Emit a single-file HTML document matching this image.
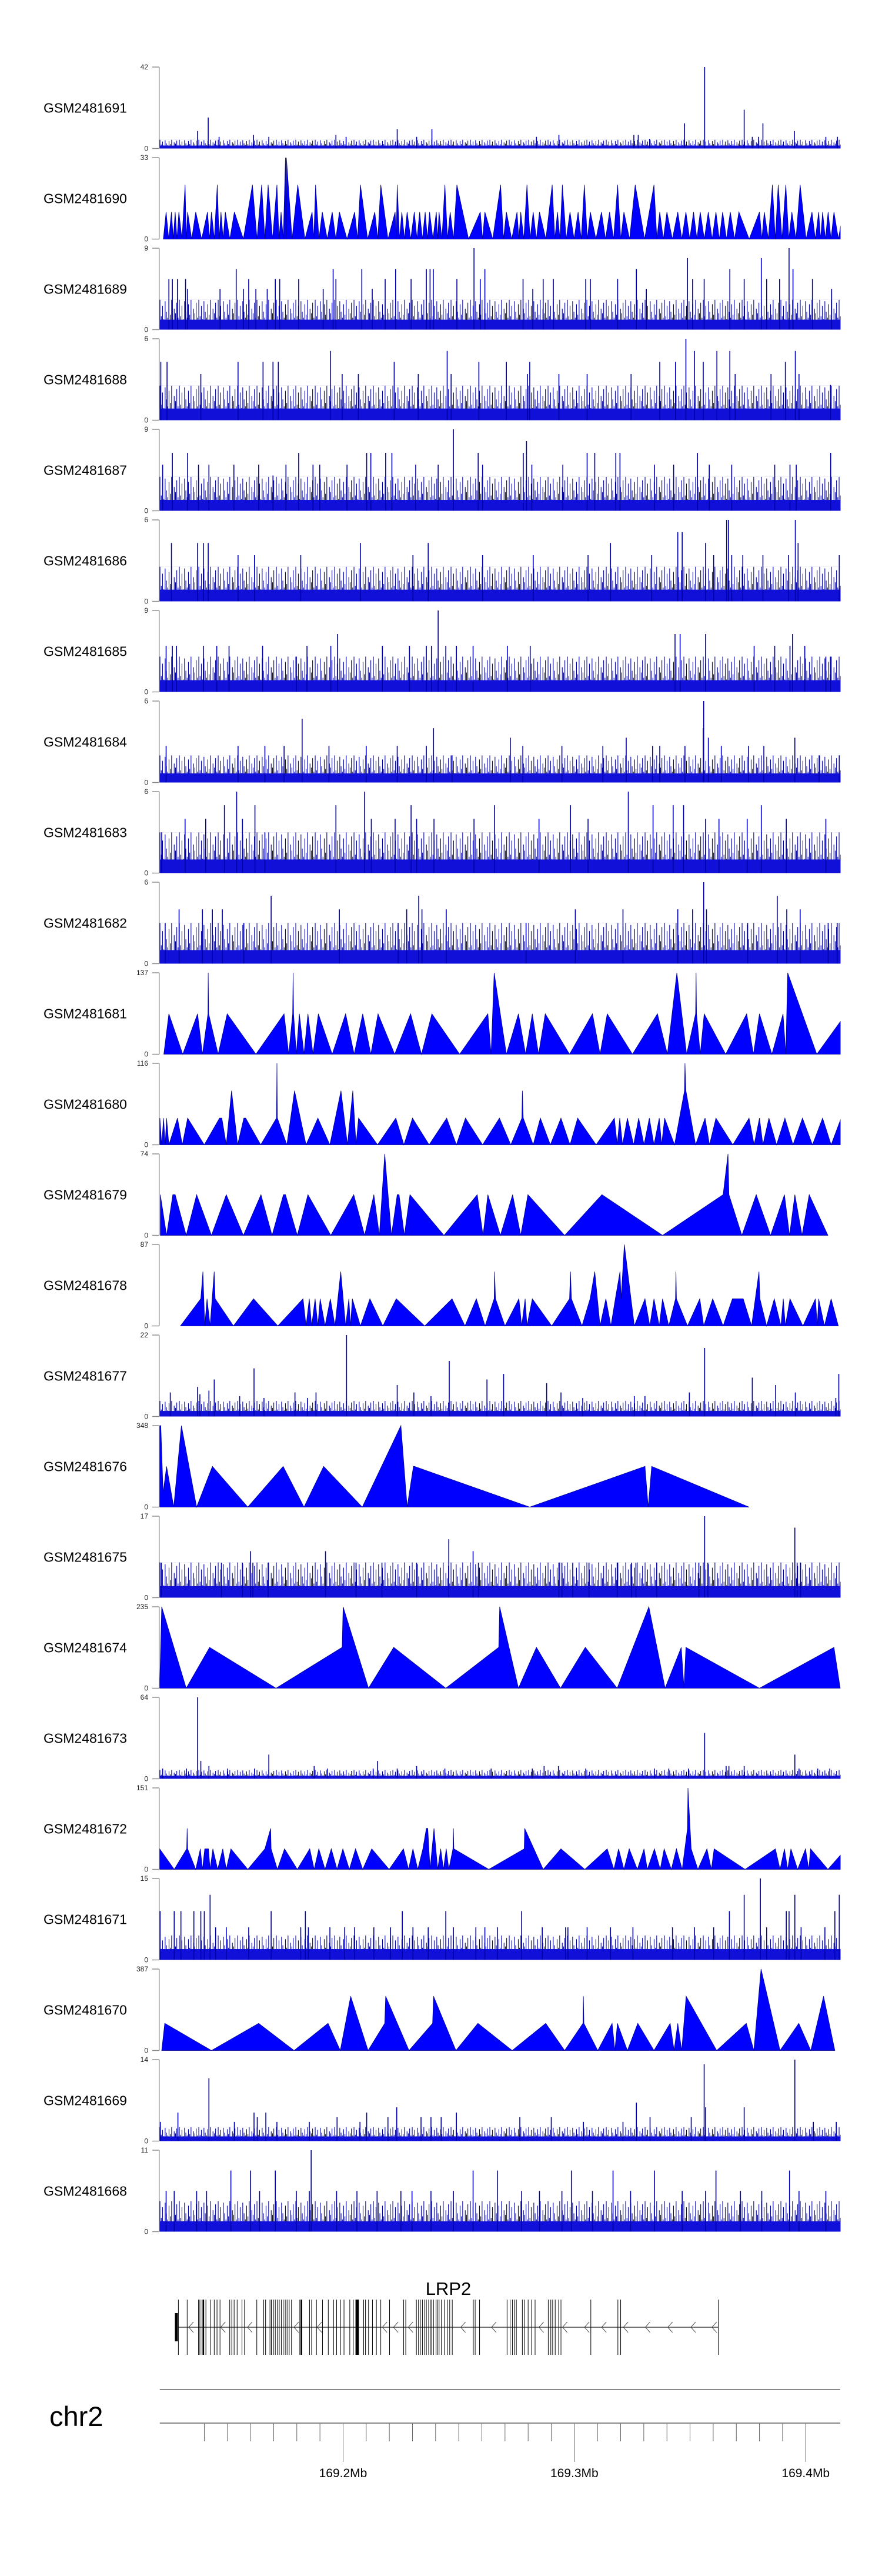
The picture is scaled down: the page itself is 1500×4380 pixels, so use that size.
<!DOCTYPE html>
<html><head><meta charset="utf-8">
<style>
html,body{margin:0;padding:0;background:#fff;}
svg{display:block;font-family:"Liberation Sans",Arial,sans-serif;}
</style></head>
<body>
<svg id="chart" width="1500" height="4380" viewBox="0 0 1500 4380" xmlns="http://www.w3.org/2000/svg">
<defs id="defs">
<clipPath id="dataClip"><rect x="271.5" y="0" width="1158" height="4380"/></clipPath>
</defs>
<g id="tracks" clip-path="url(#dataClip)"></g>
<g id="axes"></g>
<g id="gene"></g>
<g id="scale"></g>
</svg>
<script>
// ---------- track meta ----------
const trackNames = ["GSM2481691","GSM2481690","GSM2481689","GSM2481688","GSM2481687","GSM2481686","GSM2481685","GSM2481684","GSM2481683","GSM2481682","GSM2481681","GSM2481680","GSM2481679","GSM2481678","GSM2481677","GSM2481676","GSM2481675","GSM2481674","GSM2481673","GSM2481672","GSM2481671","GSM2481670","GSM2481669","GSM2481668"];
const trackMax = [42,33,9,6,9,6,9,6,6,6,137,116,74,87,22,348,17,235,64,151,15,387,14,11];
const trackKind = ["noisy","peaks","noisy","noisy","noisy","noisy","noisy","noisy","noisy","noisy","tri","tri","tri","tri","noisy","tri","noisy","tri","noisy","tri","noisy","tri","noisy","noisy"];
const bandLevel = {GSM2481691:1.5,GSM2481689:1.1,GSM2481688:0.86,GSM2481687:1.2,GSM2481686:0.86,GSM2481685:1.3,GSM2481684:0.67,GSM2481683:1,GSM2481682:1,GSM2481677:1.5,GSM2481675:2.4,GSM2481673:2.3,GSM2481671:2,GSM2481669:0.8,GSM2481668:1.4};
const midLevel = {GSM2481691:3,GSM2481689:2.2,GSM2481688:1.7,GSM2481687:2.5,GSM2481686:1.7,GSM2481685:2.6,GSM2481684:1.33,GSM2481683:2,GSM2481682:2,GSM2481677:2.8,GSM2481675:4.9,GSM2481673:4.6,GSM2481671:3,GSM2481669:1.6,GSM2481668:2.75};

// ---------- spikes [kb offset, value] ----------
const spikes1691 = [[16.4,9],[21,16],[25.7,6],[40.6,7],[47.2,6],[76.2,7],[80.6,6],[102.7,10],[111.1,6],[117.7,10],[162.9,6],[172.6,7],[205,7],[206.9,7],[211.8,5],[226.9,13],[235.6,42],[252.7,20],[256.2,6],[258.9,6],[260.8,13],[274.4,9],[288,6],[293,6]];
const spikes1689 = [[4,5.6],[5.5,5.6],[7.7,5.6],[11.2,5.6],[12.1,4.5],[26.1,4.5],[33.1,6.7],[36.2,4.5],[38.5,5.6],[41.6,4.5],[46.5,4.5],[50,5.6],[51.9,5.6],[60.1,5.6],[70.7,4.5],[75,6.7],[76.2,5.6],[87.4,6.7],[91.9,4.5],[97.5,5.6],[102,6.7],[108.7,5.6],[115.3,6.7],[116.9,6.7],[118.3,6.7],[128.5,5.6],[135.9,9],[138.6,5.6],[140.6,6.7],[157.1,5.6],[161.3,4.5],[165.8,5.6],[170.2,5.6],[184.2,5.6],[186.2,5.6],[198,5.6],[206.1,6.7],[210.4,4.5],[228.2,7.9],[230.4,5.6],[235.4,5.6],[246.5,6.7],[252.7,5.6],[260.1,7.9],[262.4,5.6],[268,5.6],[272.1,9],[273.8,6.7],[282.2,5.6],[290.5,4.5],[295,4.5]];
const spikes1688 = [[0.5,4.3],[3.2,4.3],[17.8,3.4],[33.9,4.3],[44.7,4.3],[49,4.3],[51.3,4.3],[73.8,5.1],[78.9,3.4],[85.9,3.4],[101.4,4.3],[111.8,3.4],[124.3,5.1],[126,3.4],[138,4.3],[149.9,4.3],[159,3.4],[160,4.3],[172.6,3.4],[184.8,3.4],[203.8,3.4],[216.2,4.3],[223,4.3],[227.5,6],[231.2,5.1],[235,4.3],[240.9,5.1],[246.5,5.1],[248.8,3.4],[264.3,3.4],[270.5,4.3],[274.8,5.1],[276.4,3.4],[290,2.6]];
const spikes1687 = [[1.3,5.1],[5.5,6.4],[12.1,6.4],[16.8,5.1],[21.3,5.1],[32.1,5.1],[42.8,5.1],[49,3.9],[54.6,5.1],[60.1,6.4],[66.3,5.1],[69.2,5.1],[81,5.1],[89.5,6.4],[91.3,6.4],[97.7,6.4],[100.4,6.4],[110.7,5.1],[120.4,5.1],[127,9],[137.7,6.4],[139.6,5.1],[157.2,6.4],[158.6,7.7],[160.9,5.1],[174.3,5.1],[184.8,6.4],[188.1,6.4],[197.2,6.4],[199,6.4],[213.9,5.1],[222.2,5.1],[232.5,6.4],[237.6,5.1],[247.3,5.1],[265.9,5.1],[272.5,5.1],[275.2,5.1],[290.1,6.4]];
const spikes1686 = [[5.1,4.3],[16.4,4.3],[18.9,4.3],[21,4.3],[33.9,3.4],[41,3.4],[61,3.4],[86.8,4.3],[109.5,3.4],[116.1,4.3],[139.6,3.4],[161.5,3.4],[185.2,3.4],[194.9,4.3],[212.7,3.4],[224,5.1],[225.9,5.1],[236,4.3],[239.5,3.4],[245.1,6],[245.9,6],[247.3,3.4],[252.1,3.4],[260.8,3.4],[271.9,3.4],[274.8,6],[276,4.3],[293.8,3.4]];
const spikes1685 = [[2.8,5.1],[5.5,5.1],[7.3,5.1],[18.9,5.1],[24.7,5.1],[30,5.1],[44.5,5.1],[59.1,3.9],[63.7,5.1],[74,5.1],[76.9,6.4],[96.3,5.1],[108,5.1],[115.3,5.1],[117.5,5.1],[120.4,9],[123.7,5.1],[128.3,5.1],[135.5,5.1],[150.3,5.1],[160.2,5.1],[222.8,6.4],[225,6.4],[236,6.4],[257,5.1],[265.9,5.1],[272.5,5.1],[273.6,6.4],[278.9,5.1],[288,3.9],[290,3.9]];
const spikes1684 = [[2.8,2.7],[33.9,2.7],[45.5,2.7],[53.8,2.7],[61.6,4.7],[73.2,2.7],[89.3,2.7],[102.7,2.7],[115.3,2.7],[118.4,4],[126.4,2],[151.6,3.3],[157,2.7],[173.9,2.7],[191.6,2.7],[201.7,3.3],[213.1,2.7],[216.2,2.7],[227.1,2.7],[235,4],[235.2,6],[237.2,3.3],[242.8,2.7],[254.6,2.7],[261.2,2.7],[274.6,3.3],[285.1,2],[293.8,2]];
const spikes1683 = [[0.9,3],[11,4],[19.9,4],[28,5],[33.3,6],[35.8,4],[41.2,5],[45.5,3],[76.2,5],[88.6,6],[91.5,4],[101.8,4],[108.7,5],[111.1,4],[118.6,4],[135.9,4],[144.8,5],[164,4],[177.6,5],[185.2,4],[202.6,6],[213.3,5],[222,5],[226.5,5],[236,4],[241.8,4],[254,4],[260.1,5],[270.9,4],[288,4],[296.3,3]];
const spikes1682 = [[2.4,3],[8.4,4],[18.5,4],[22.8,4],[27.1,4],[36.4,3],[48.2,5],[77.7,4],[103.1,3],[106.8,4],[112,5],[113.4,4],[123.9,4],[158.4,3],[179.7,4],[200.3,4],[224,4],[230.4,4],[235.2,6],[236.4,4],[254.2,3],[267,5],[271.1,4],[276.9,4],[289,3],[292.9,3]];
const spikes1677 = [[4.6,6.5],[16.4,8],[17.4,6],[21.3,7],[23.6,10],[34.6,5.5],[40.8,13],[45.1,5],[58.5,6.5],[63.9,5],[67.6,6.5],[80.8,22],[102.7,8.5],[109.9,6.5],[117.3,5.5],[125.2,15],[141.5,10],[148.7,11.5],[167.3,9],[173.5,6.5],[182.9,5],[205.2,5.5],[209.8,5.5],[229,6.5],[235.6,18.5],[256.2,10.5],[266.3,8.5],[274.8,6.5],[292.3,5],[293.6,11.5]];
const spikes1675 = [[0.7,7.3],[26.7,7.3],[35.8,7.3],[39.3,9.7],[40.3,7.3],[46.9,7.3],[71.7,9.7],[84.9,7.3],[96.1,7.3],[111.1,7.3],[125,12.2],[135.5,9.7],[137.8,7.3],[172.6,7.3],[173.9,7.3],[178.6,7.3],[185.6,7.3],[197.8,7.3],[204,7.3],[205.9,7.3],[214.9,7.3],[233.1,7.3],[235.6,17],[237,7.3],[274.6,14.6],[275.6,7.3],[277.1,7.3],[295.4,7.3]];
const spikes1673 = [[1.3,8],[11.6,8],[16.4,64],[17.8,14],[21.3,10],[29.4,8],[41,8],[47.2,19],[66.8,10],[72.5,8],[92.3,8],[94.2,14],[102.7,8],[111.1,10],[123.3,8],[143.3,8],[161.1,8],[166.2,10],[172.4,10],[184.2,8],[213.9,8],[220.1,8],[228.6,8],[235.6,36],[244.9,10],[246.1,10],[252.7,10],[274.6,19],[276.4,8],[284.5,8],[289.7,8]];
const spikes1671 = [[0.2,9],[6.3,9],[9.2,9],[14.8,9],[17.8,9],[19.3,9],[21.8,12],[24.2,6],[28.8,6],[38.5,6],[48.2,9],[61,6],[63,9],[64.3,6],[73.6,6],[80,6],[84.3,6],[92.6,6],[99.8,6],[104.9,9],[109.5,6],[116.1,6],[123.7,9],[127,6],[136.7,6],[140.6,6],[146,6],[156.5,9],[165.4,6],[175.5,6],[176.5,6],[184.8,6],[194.9,6],[204.6,6],[221.7,6],[231.2,6],[239.5,6],[246.3,9],[252.7,12],[259.7,15],[262.4,6],[270.9,9],[272.1,9],[274.6,12],[277.3,6],[287.6,6],[291.9,9],[293.8,12],[296.4,6]];
const spikes1669 = [[0.3,3.3],[7.9,4.9],[21.3,10.8],[32.3,3.3],[40.8,4.9],[42.2,4.1],[45.9,4.9],[50.7,3.3],[64.7,3.3],[76.7,4.1],[86.6,3.3],[89.5,4.9],[98.7,4.1],[102.5,5.8],[113,4.1],[117.3,4.1],[121.7,4.1],[128.3,4.9],[155.7,4.1],[169.3,4.1],[183.2,3.3],[200.3,3.3],[206.1,6.6],[212,4.1],[229.8,4.1],[235.4,13.2],[236,5.8],[252.7,5.8],[274.6,14],[282.6,3.3],[292.5,3.3]];
const spikes1668 = [[2.8,5.5],[6.3,5.5],[16,5.5],[20.3,5.5],[30.8,8.25],[39.3,8.25],[43.2,5.5],[50,8.25],[59.1,5.5],[64.7,5.5],[65.5,11],[76.5,5.5],[85.3,5.5],[94,5.5],[104.3,5.5],[109.1,5.5],[117.3,5.5],[127,5.5],[135.5,8.25],[146,8.25],[156.5,5.5],[164.2,5.5],[173.9,5.5],[178,8.25],[187.1,5.5],[196,8.25],[203.6,5.5],[213.9,8.25],[225.9,5.5],[236,5.5],[240.5,8.25],[251.1,5.5],[260.3,5.5],[272.3,8.25],[276.4,5.5],[288,5.5],[296.4,5.5]];

// ---------- peak track (valleys at 0 between peaks) ----------
const peaks1690 = [[2.8,11],[5.1,11],[6.7,11],[8.3,11],[11,22],[12.1,11],[15.6,11],[20.7,11],[22.4,11],[24.9,22],[26.5,11],[28.4,11],[32.3,11],[40.1,22],[44.1,22],[46.9,22],[50.7,22],[52.5,11],[54.4,33],[54.8,33],[59.7,22],[65.9,11],[67.4,22],[70.3,11],[74.6,11],[77.7,11],[84.3,11],[86.8,22],[93,11],[95.6,22],[101.8,11],[102.7,22],[104.7,11],[107,11],[110.1,11],[112.4,11],[114.8,11],[116.7,11],[119.6,11],[120.8,11],[123.3,22],[125.6,11],[128.5,22],[138.6,11],[140.6,11],[147.4,22],[149.9,11],[154.5,11],[156.1,11],[158.8,22],[161.5,11],[164.2,11],[169.7,22],[172,11],[174.1,22],[177.4,11],[180.9,11],[183.6,22],[186.2,11],[191,11],[194.5,11],[198,22],[200.7,11],[205.6,22],[213.7,22],[216.2,11],[219.3,11],[224,11],[227.5,11],[230.8,11],[233.7,11],[237.2,11],[240.5,11],[243.4,11],[246.7,11],[250.4,11],[259.3,11],[261.4,11],[264.9,22],[267.4,22],[270.7,22],[273.3,11],[276.9,22],[282,11],[284.9,11],[286.6,11],[289,11],[291.5,11],[295.4,11]];

// ---------- triangle tracks: vertices [kb offset, value] ----------
const verts1681 = [[1.8,0],[4,68],[10,0],[16.4,68],[18.5,0],[20.9,68],[21,137],[21.2,68],[25.3,0],[29.2,68],[41.6,0],[53.8,68],[55.8,0],[57.5,68],[57.7,137],[57.9,68],[59.1,0],[60.4,68],[62.4,0],[64.1,68],[66.3,0],[68.6,68],[74.6,0],[80.4,68],[84.1,0],[87.8,68],[91.3,0],[94.4,68],[101.6,0],[108.5,68],[113.2,0],[117.7,68],[129.7,0],[141.9,68],[143.3,0],[144.6,137],[149.9,0],[155.1,68],[158.2,0],[161.1,68],[163.8,0],[166.7,68],[177.2,0],[187.1,68],[190.4,0],[193.5,68],[204.4,0],[215.2,68],[219.5,0],[223.6,137],[227.8,0],[231.7,68],[231.9,137],[232.1,68],[233.7,0],[235.4,68],[244.7,0],[253.8,68],[256.7,0],[259.3,68],[264.7,0],[269.5,68],[270.7,0],[271.5,137],[284.1,0],[296.7,68]];
const verts1680 = [[0.1,38],[0.9,0],[1.7,38],[2.4,0],[3,38],[4,0],[7.7,38],[9.8,0],[12.1,38],[19.3,0],[25.9,38],[26.9,38],[28.8,0],[31.1,77],[33.7,0],[36.4,38],[37.2,38],[43.7,0],[50.5,38],[50.7,116],[50.9,38],[55,0],[58.3,77],[63.3,0],[68.4,38],[73.6,0],[78.4,77],[81.2,0],[83.5,77],[84.9,0],[86,38],[94.2,0],[102.1,38],[105.6,0],[109.3,38],[116.5,0],[124.1,38],[128.3,0],[132.2,38],[139.6,0],[146.9,38],[151.8,0],[156.6,38],[156.8,77],[157.2,38],[161.5,0],[164.6,38],[168.9,0],[173.5,38],[177.4,0],[180.7,38],[188.7,0],[196.6,38],[197.8,0],[198.9,38],[200.1,0],[202.2,38],[204.9,0],[207.1,38],[209.4,0],[211.7,38],[213.7,0],[216,38],[217,0],[218.3,38],[222.6,0],[226.9,77],[227.1,116],[227.5,77],[231.7,0],[235.8,38],[237.7,0],[240.5,38],[247.8,0],[254.8,38],[257,0],[259.3,38],[260.8,0],[263.4,38],[266.7,0],[270.3,38],[273.8,0],[277.9,38],[282.2,0],[286.6,38],[290.3,0],[294.6,38],[295.7,0]];
const verts1679 = [[0.3,37],[3,0],[5.7,37],[6.7,37],[11.5,0],[16,37],[22.4,0],[28.8,37],[36.2,0],[43.8,37],[48.6,0],[53.5,37],[54.4,37],[59.5,0],[64.1,37],[74,0],[83.9,37],[88.6,0],[92.6,37],[95,0],[97.3,74],[100.2,0],[102.7,37],[103.5,37],[105.8,0],[108.2,37],[122.9,0],[137.3,37],[139.8,0],[141.9,37],[147.3,0],[152.6,37],[156.1,0],[159.2,37],[175.1,0],[191.2,37],[217.4,0],[243.6,37],[245.7,74],[246.1,37],[251.7,0],[257.9,37],[264.1,0],[270.1,37],[272.3,0],[274.6,37],[277.7,0],[280.8,37],[288.9,0]];
const verts1678 = [[9,0],[17.8,29],[18.7,58],[19.5,0],[20.5,29],[21.8,0],[23.6,58],[24,29],[31.9,0],[40.6,29],[51.1,0],[62,29],[63.3,0],[64.7,29],[65.7,0],[67.2,29],[68.4,0],[69.4,29],[71.5,0],[73.8,29],[75.8,0],[78.3,58],[80.4,0],[81.8,29],[82.5,0],[83.3,29],[86.8,0],[90.9,29],[96.5,0],[102.3,29],[114.6,0],[126.4,29],[132,0],[136.9,29],[140.7,0],[144.6,29],[144.8,58],[145.2,29],[149.3,0],[155.3,29],[156.5,0],[158,29],[158.8,0],[161.1,29],[169.5,0],[177.2,29],[177.6,58],[178,29],[182.6,0],[186.1,29],[188.1,58],[190.4,0],[192.9,29],[195.1,0],[197,29],[199,58],[199.5,29],[200.9,87],[205.2,0],[209.8,29],[211.9,0],[213.7,29],[216,0],[217.4,29],[220.1,0],[223,29],[223.2,58],[223.4,29],[228.2,0],[233.5,29],[235.2,0],[239.1,29],[243.6,0],[247.6,29],[252.3,29],[255.9,0],[259.1,58],[259.5,29],[262.4,0],[265.7,29],[268.6,0],[269.6,29],[270.5,0],[272.5,29],[278.1,0],[283.5,29],[284.3,0],[284.9,29],[287.4,0],[290.3,29],[293.4,0]];
const verts1676 = [[0,348],[0.5,348],[1.5,60],[3,174],[6.1,0],[9.4,348],[16,0],[22.8,174],[38.1,0],[53.4,174],[62.4,0],[70.9,174],[87.6,0],[104.3,348],[107,0],[109.7,174],[110.1,174],[160,0],[209.8,174],[211.2,0],[212.7,174],[254.8,0]];
const verts1674 = [[0,0],[0.9,235],[11.5,0],[21.6,118],[50.3,0],[78.9,118],[79.3,235],[90.3,0],[101.2,118],[123.7,0],[146.6,118],[147,235],[155.1,0],[162.9,118],[173.3,0],[184,118],[197.8,0],[211.5,235],[218.5,0],[225.5,118],[226.7,0],[227.5,118],[259.3,0],[291.5,118],[294.2,0]];
const verts1672 = [[0,38],[6.3,0],[11.7,38],[11.9,76],[12.1,38],[15.6,0],[17.6,38],[18.5,0],[19.5,38],[21.1,38],[21.8,0],[23,38],[25.1,0],[27.3,38],[28.8,0],[30.8,38],[38.1,0],[45.5,38],[48,76],[48.2,38],[50.9,0],[54,38],[59.5,0],[64.9,38],[66.8,0],[68.8,38],[71.5,0],[74.2,38],[76.7,0],[79.2,38],[82,0],[84.7,38],[87.8,0],[91.7,38],[99.2,0],[105.4,38],[107.6,0],[109.5,38],[111.6,0],[113.8,38],[115.3,76],[115.9,76],[116.9,0],[118.6,76],[120.2,0],[121.5,38],[122.7,0],[123.9,38],[125,0],[126.8,38],[127,76],[127.2,38],[142.3,0],[157.6,38],[157.8,76],[165.8,0],[173.5,38],[183.8,0],[193.5,38],[196.4,0],[198.4,38],[200.7,0],[203,38],[206.5,0],[209.4,38],[210.8,0],[213.9,38],[216.4,0],[218.1,38],[221.2,0],[223.4,38],[225.9,0],[228.2,76],[228.4,151],[229.8,38],[232.7,0],[236.6,38],[238.5,0],[239.7,38],[253.1,0],[266.2,38],[268.2,0],[270.1,38],[271.5,0],[272.9,38],[275.8,0],[279.2,38],[280.6,0],[281.4,38],[288.9,0],[296.7,38]];
const verts1670 = [[0.9,0],[2.2,129],[22.4,0],[42.8,129],[58.1,0],[72.8,129],[78.1,0],[82.6,258],[90.1,0],[97.3,129],[97.7,258],[107.8,0],[118,129],[118.4,258],[128.1,0],[137.6,129],[152.4,0],[166.9,129],[175.1,0],[183,129],[183.2,258],[183.4,129],[189.4,0],[195.6,129],[196.8,0],[197.9,129],[202.2,0],[206.7,129],[213.7,0],[220.7,129],[222.4,0],[224,129],[225.7,0],[227.6,258],[240.8,0],[253.6,129],[256.9,0],[260,387],[268.2,0],[276.3,129],[281.5,0],[287,258],[291.9,0]];

const spikeData = {GSM2481691:spikes1691,GSM2481689:spikes1689,GSM2481688:spikes1688,GSM2481687:spikes1687,GSM2481686:spikes1686,GSM2481685:spikes1685,GSM2481684:spikes1684,GSM2481683:spikes1683,GSM2481682:spikes1682,GSM2481677:spikes1677,GSM2481675:spikes1675,GSM2481673:spikes1673,GSM2481671:spikes1671,GSM2481669:spikes1669,GSM2481668:spikes1668};
const vertData = {GSM2481681:verts1681,GSM2481680:verts1680,GSM2481679:verts1679,GSM2481678:verts1678,GSM2481676:verts1676,GSM2481674:verts1674,GSM2481672:verts1672,GSM2481670:verts1670};

// ---------- gene model (kb offsets) ----------
const geneName = "LRP2";
const geneStart = 8.1, geneEnd = 241.5;
const utrStart = 6.6, utrEnd = 7.6;
const exons = [8.1,11.9,16.8,17.4,18.3,18.9,20,22.1,23.6,24.8,26.1,30.3,31.2,32.2,33.5,35.6,36.7,42,45,45.8,47.7,48.3,49.2,50,50.9,51.7,52.6,53.4,54.3,55.1,56,57,60.6,61.3,64.8,65.7,67.8,70.4,72.9,75.2,76.5,78.2,79.7,82.2,83.7,84.8,85.2,85.6,86,88.2,89,90.3,92,93.7,95.6,99.4,105.5,106.4,111,111.9,112.7,113.6,114.6,115.3,116.3,117,117.6,118.4,119.5,120.1,120.8,121.8,123.1,124.4,125.4,126.5,135.6,136.4,138.3,150.2,151.5,152.5,153.4,154.2,156.8,157.8,159.3,160.8,162.3,168,169.1,169.9,171,172.5,173.5,186.4,198.1,199.3,241.5];
const thickExons = [18.9,61.3,85.2,85.6];
const chevrons = [13.6,27.4,39,59.1,69.1,97.3,102.1,108.5,131.2,144.5,165,175.2,184.7,192.1,201.5,211,220.7,230.7,239.8];

// ---------- genome axis ----------
const regionStartMb = 169.1207;
const tickMb = [169.14,169.15,169.16,169.17,169.18,169.19,169.2,169.21,169.22,169.23,169.24,169.25,169.26,169.27,169.28,169.29,169.3,169.31,169.32,169.33,169.34,169.35,169.36,169.37,169.38,169.39,169.4];
const majorLabels = ["169.2Mb","169.3Mb","169.4Mb"];
const majorMb = [169.2,169.3,169.4];

// texture heights (fractions of the noise zone) used only for rendering the dense read texture
const textureFrac = [1,0.45,0.8,0.35,0.95,0.6,0.4,0.85,0.5,1,0.3,0.7,0.55,0.9,0.4];

// ---------- scales ----------
const X0 = 271.5, PXKB = 3.934;
function xScale(kb){ return X0 + kb*PXKB; }
function trackTop(i){ return 114 + 154*i; }
const TH = 138.5;
function yScale(i, v){ return trackTop(i) + TH - (v/trackMax[i])*TH; }

const NS = "http://www.w3.org/2000/svg";
function mk(tag, attrs, parent){
  const e = document.createElementNS(NS, tag);
  for (const k in attrs) e.setAttribute(k, attrs[k]);
  parent.appendChild(e);
  return e;
}
const defs = document.getElementById('defs');
const gTracks = document.getElementById('tracks');
const gAxes = document.getElementById('axes');

trackNames.forEach((name, i) => {
  const top = trackTop(i), zero = top + TH;
  const g = mk('g', {}, gTracks);
  
  
  const kind = trackKind[i];
  if (kind === 'noisy') {
    const b = bandLevel[name], m = midLevel[name];
    const zoneTop = yScale(i, m*1.5);
    const zh = zero - zoneTop;
    const tw = textureFrac.length*2.2;
    const pat = mk('pattern', {id:'tex'+i, x:X0, y:zoneTop, width:tw, height:zh, patternUnits:'userSpaceOnUse'}, defs);
    textureFrac.forEach((f, k) => {
      mk('rect', {x:k*2.2, y:zh*(1-f), width:1.1, height:zh*f, fill:'#00009c'}, pat);
    });
    const mid = mk('rect', {x:X0, y:zoneTop, width:1168, height:zh, fill:'url(#tex'+i+')'}, g);
    
    
    const band = mk('rect', {x:X0, y:yScale(i,b), width:1168, height:zero-yScale(i,b), fill:'#1010d8'}, g);
    
    
    spikeData[name].forEach(s => {
      const x = xScale(s[0]);
      const ln = mk('line', {x1:x, x2:x, y1:zero, y2:yScale(i, s[1]), stroke:'#0000a8', 'stroke-width':1.6}, g);
      
      
    });
  } else {
    let pts = [];
    if (kind === 'peaks') {
      const pk = peaks1690;
      pts.push([pk[0][0]-1.2, 0]);
      pk.forEach((p, k) => {
        pts.push(p);
        if (k < pk.length-1) pts.push([(p[0]+pk[k+1][0])/2, 0]);
      });
      pts.push([pk[pk.length-1][0]+1.2, 0]);
    } else {
      const vs = vertData[name];
      pts.push([vs[0][0], 0]);
      vs.forEach(p => pts.push(p));
      pts.push([vs[vs.length-1][0], 0]);
    }
    const d = pts.map(p => xScale(p[0]).toFixed(1) + ',' + yScale(i, p[1]).toFixed(1)).join(' ');
    const poly = mk('polygon', {points:d, fill:'#0000ff', stroke:'#000090', 'stroke-width':0.8}, g);
    
    
  }
  const ax = mk('g', {}, gAxes);
  
  
  mk('line', {x1:270.7, x2:270.7, y1:top, y2:zero, stroke:'#888', 'stroke-width':1.4}, ax);
  mk('line', {x1:259, x2:270.7, y1:top, y2:top, stroke:'#888', 'stroke-width':1.4}, ax);
  mk('line', {x1:259, x2:270.7, y1:zero, y2:zero, stroke:'#888', 'stroke-width':1.4}, ax);
  const tmax = mk('text', {x:252, y:top+4, 'font-size':12, 'text-anchor':'end', fill:'#222'}, ax);
  tmax.textContent = trackMax[i];
  
  
  const tz = mk('text', {x:252, y:zero+4, 'font-size':12, 'text-anchor':'end', fill:'#222'}, ax);
  tz.textContent = '0';
  
  
  const lab = mk('text', {x:74, y:top+TH/2+8, 'font-size':23, fill:'#000'}, ax);
  lab.textContent = name;
  
  
});

// ---------- gene ----------
const gGene = document.getElementById('gene');


const GY = 3957;
mk('line', {x1:xScale(geneStart), x2:xScale(geneEnd), y1:GY, y2:GY, stroke:'#222', 'stroke-width':1.2}, gGene);
exons.forEach(e => {
  const x = xScale(e);
  const l = mk('line', {x1:x, x2:x, y1:3910, y2:4004, stroke:'#000', 'stroke-width':1}, gGene);
  
  
});
thickExons.forEach(e => {
  const x = xScale(e);
  mk('line', {x1:x, x2:x, y1:3910, y2:4004, stroke:'#000', 'stroke-width':2.6}, gGene);
});
const utr = mk('rect', {x:xScale(utrStart), y:3933, width:(utrEnd-utrStart)*PXKB+1, height:48, fill:'#000'}, gGene);


chevrons.forEach(c => {
  const x = xScale(c);
  const p = mk('polyline', {points:(x+4)+','+(GY-9)+' '+(x-4)+','+GY+' '+(x+4)+','+(GY+9), fill:'none', stroke:'#333', 'stroke-width':0.9}, gGene);
  
  
});
const gl = mk('text', {x:xScale((geneStart+geneEnd)/2), y:3902, 'font-size':31, 'text-anchor':'middle', fill:'#000'}, gGene);
gl.textContent = geneName;



// ---------- scale ----------
const gScale = document.getElementById('scale');


mk('line', {x1:271.7, x2:1429, y1:4063, y2:4063, stroke:'#888', 'stroke-width':2}, gScale);
mk('line', {x1:271.7, x2:1429, y1:4120, y2:4120, stroke:'#888', 'stroke-width':2}, gScale);
tickMb.forEach(t => {
  const x = xScale((t - regionStartMb)*1000);
  const major = majorMb.some(m => Math.abs(m-t) < 1e-6);
  const l = mk('line', {x1:x, x2:x, y1:4121, y2:major?4186:4151, stroke:'#555', 'stroke-width':0.9}, gScale);
  
  
});
majorMb.forEach((m, k) => {
  const t = mk('text', {x:xScale((m - regionStartMb)*1000), y:4212, 'font-size':21, 'text-anchor':'middle', fill:'#000'}, gScale);
  t.textContent = majorLabels[k];
  
  
});
const chr = mk('text', {x:84, y:4125, 'font-size':47, fill:'#000'}, gScale);
chr.textContent = 'chr2';


</script>
</body></html>
